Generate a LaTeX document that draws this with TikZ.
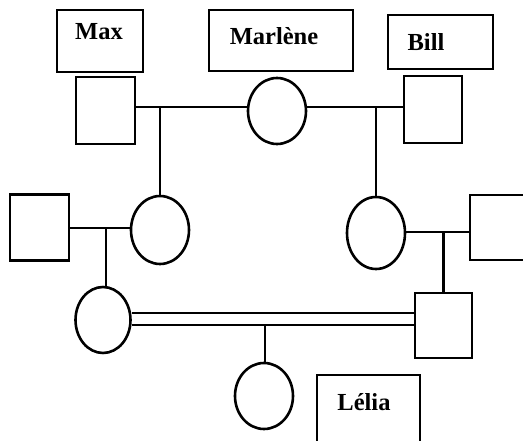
\documentclass[tikz,border=0pt]{standalone}
\usepackage{fontspec}
\setmainfont{Liberation Serif}
\usetikzlibrary{shapes.geometric}
\begin{document}
\begin{tikzpicture}[x=1pt,y=-1pt,
  male/.style={draw,line width=2.6pt,rectangle,minimum width=#1,minimum height=66pt,inner sep=0pt},
  male/.default=59pt,
  female/.style={draw,line width=2.6pt,ellipse,minimum width=58pt,minimum height=#1,inner sep=0pt},
  female/.default=68pt,
  namebox/.style={draw,line width=1.8pt,rectangle,inner sep=0pt},
  nametext/.style={font=\fontsize{24.5}{27}\selectfont\bfseries,anchor=base,inner sep=0pt},
  link/.style={line width=2.6pt}]
\clip (0,0) rectangle (523,441);
\fill[white] (0,0) rectangle (523,441);
% name boxes
\node[namebox,minimum width=86pt,minimum height=62pt] (bmax) at (100,41) {};
\node[namebox,minimum width=144pt,minimum height=61pt] (bmar) at (281,40.5) {};
\node[namebox,minimum width=105pt,minimum height=54pt] (bbill) at (440.5,42) {};
\node[namebox,minimum width=103pt,minimum height=80pt] (blelia) at (368.5,415) {};
\node[nametext] (tmax) at (99,40) {Max};
\node[nametext] (tmar) at (274,45) {Marlène};
\node[nametext] (tbill) at (426,51) {Bill};
\node[nametext] (tlelia) at (364,410) {Lélia};
% generation 1
\node[male,minimum height=67pt] (max) at (105.5,110.5) {};
\node[female=66pt] (marlene) at (277,111) {};
\node[male=58pt,minimum height=67pt] (bill) at (433,109.5) {};
% generation 2
\node[male] (sp1) at (39.5,227.5) {};
\node[female] (d1) at (160,230) {};
\node[female=72pt,minimum width=58pt] (d2) at (376,233) {};
\node[male=60pt,minimum height=65pt] (sp2) at (500,227.5) {};
% generation 3
\node[female=66pt,minimum width=55pt] (g1) at (103,320) {};
\node[male=57pt,minimum height=65pt] (g2) at (443.5,325.5) {};
% generation 4
\node[female=66pt] (lelia) at (264,396) {};
% connectors
\coordinate (j1) at (160,107);
\coordinate (j2) at (376,107);
\coordinate (j3) at (106,228);
\coordinate (j4) at (443.5,232);
\coordinate (j5) at (265,325);
\draw[link] (max.east |- j1) -- (marlene.west |- j1);
\draw[link] (marlene.east |- j2) -- (bill.west |- j2);
\draw[link] (j1) -- (d1.north);
\draw[link] (j2) -- (d2.north);
\draw[link] (sp1.east |- j3) -- (d1.west |- j3);
\draw[link] (j3) -- (j3 |- g1.north);
\draw[link] (d2.east |- j4) -- (sp2.west |- j4);
\draw[link] (j4) -- (g2.north);
\draw[link] (g1.east |- 0,313) -- (g2.west |- 0,313);
\draw[link] (g1.east |- j5) -- (g2.west |- j5);
\draw[link] (j5) -- (j5 |- lelia.north);
\end{tikzpicture}
\end{document}
